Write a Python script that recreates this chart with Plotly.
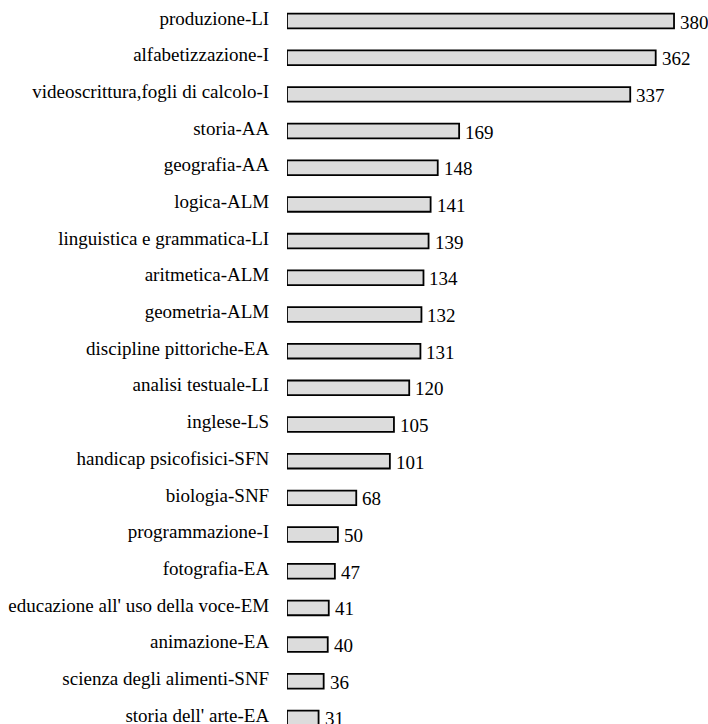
import plotly.graph_objects as go

categories = [
    "produzione-LI", "alfabetizzazione-I", "videoscrittura,fogli di calcolo-I",
    "storia-AA", "geografia-AA", "logica-ALM", "linguistica e grammatica-LI",
    "aritmetica-ALM", "geometria-ALM", "discipline pittoriche-EA",
    "analisi testuale-LI", "inglese-LS", "handicap psicofisici-SFN",
    "biologia-SNF", "programmazione-I", "fotografia-EA",
    "educazione all' uso della voce-EM", "animazione-EA",
    "scienza degli alimenti-SNF", "storia dell' arte-EA",
]
values = [380, 362, 337, 169, 148, 141, 139, 134, 132, 131,
          120, 105, 101, 68, 50, 47, 41, 40, 36, 31]

fig = go.Figure(go.Bar(
    x=values, y=categories, orientation="h",
    marker=dict(color="#dcdcdc", line=dict(color="black", width=1.8)),
    cliponaxis=False, width=0.4,
))

for c, v in zip(categories, values):
    fig.add_annotation(x=v, y=c, text=str(v), showarrow=False,
                       xanchor="left", yanchor="middle", xshift=4, yshift=-1,
                       font=dict(family="Liberation Serif", size=19, color="black"))

fig.update_layout(
    width=708, height=724,
    margin=dict(l=287, r=8, t=0, b=0, autoexpand=False),
    plot_bgcolor="white", paper_bgcolor="white",
    font=dict(family="Liberation Serif", size=19, color="black"),
    showlegend=False,
    xaxis=dict(range=[0, 405.5], visible=False, automargin=False),
    yaxis=dict(range=[19.165, -0.573], showgrid=False, zeroline=False,
               ticks="outside", ticklen=13, tickcolor="rgba(0,0,0,0)",
               ticklabelshift=3,
               showline=False, automargin=False),
)

fig.write_html("out.html", config={"displayModeBar": False},
               post_script="document.body.style.margin='0';document.body.style.overflow='hidden';")
